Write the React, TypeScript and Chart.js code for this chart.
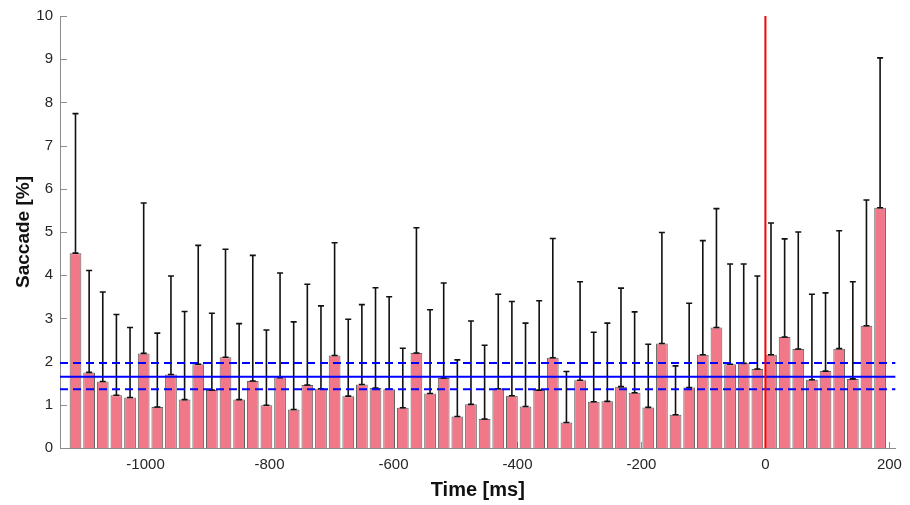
import React, { useEffect, useRef } from "react";
import { Chart, registerables } from "chart.js";

Chart.register(...registerables);

// Bin centres (ms relative to event)
const binCenters = [
  -1113, -1091, -1069, -1047, -1025, -1003, -981, -959, -937, -915,
  -893, -871, -849, -827, -805, -783, -761, -739, -717, -695,
  -673, -651, -629, -607, -585, -563, -541, -519, -497, -475,
  -453, -431, -409, -387, -365, -343, -321, -299, -277, -255,
  -233, -211, -189, -167, -145, -123, -101, -79, -57, -35,
  -13, 9, 31, 53, 75, 97, 119, 141, 163, 185,
];

// Saccade rate (%)
const saccadePct = [
  4.51, 1.75, 1.54, 1.22, 1.17, 2.19, 0.95, 1.7, 1.12, 1.94,
  1.34, 2.1, 1.12, 1.55, 0.99, 1.63, 0.89, 1.46, 1.37, 2.14,
  1.2, 1.47, 1.39, 1.36, 0.93, 2.2, 1.26, 1.62, 0.73, 1.01,
  0.67, 1.37, 1.21, 0.96, 1.34, 2.09, 0.59, 1.57, 1.07, 1.08,
  1.42, 1.28, 0.94, 2.42, 0.77, 1.4, 2.16, 2.79, 1.94, 1.96,
  1.83, 2.16, 2.57, 2.29, 1.58, 1.78, 2.3, 1.6, 2.83, 5.56,
];

// Upper end of error bars (%)
const errorTop = [
  7.74, 4.11, 3.61, 3.09, 2.79, 5.67, 2.66, 3.98, 3.16, 4.69,
  3.12, 4.6, 2.88, 4.46, 2.73, 4.05, 2.92, 3.79, 3.29, 4.75,
  2.98, 3.32, 3.71, 3.5, 2.31, 5.1, 3.2, 3.82, 2.04, 2.94,
  2.38, 3.56, 3.39, 2.89, 3.41, 4.85, 1.77, 3.85, 2.68, 2.89,
  3.7, 3.15, 2.4, 4.99, 1.9, 3.35, 4.8, 5.54, 4.26, 4.26,
  3.98, 5.21, 4.84, 5.0, 3.56, 3.59, 5.03, 3.85, 5.74, 9.03,
];

const meanLevel = 1.65;
const ciLower = 1.36;
const ciUpper = 1.97;
const eventTime = 0;

const xRange = [-1138, 210];
const yRange = [0, 10];
const xTicks = [-1000, -800, -600, -400, -200, 0, 200];
const yTicks = [0, 1, 2, 3, 4, 5, 6, 7, 8, 9, 10];

const FONT = "'Liberation Sans', Arial, Helvetica, sans-serif";

const errorBarPlugin = {
  id: "errorBars",
  afterDatasetDraw(chart: any, args: any) {
    if (args.index !== 0) return;
    const { ctx } = chart;
    const x = chart.scales.x;
    const y = chart.scales.y;
    ctx.save();
    ctx.strokeStyle = "#111111";
    ctx.lineWidth = 1.6;
    binCenters.forEach((c, i) => {
      const px = x.getPixelForValue(c);
      const y0 = y.getPixelForValue(saccadePct[i]);
      const y1 = y.getPixelForValue(errorTop[i]);
      ctx.beginPath();
      ctx.moveTo(px, y0);
      ctx.lineTo(px, y1);
      ctx.moveTo(px - 3, y1);
      ctx.lineTo(px + 3, y1);
      ctx.moveTo(px - 3, y0);
      ctx.lineTo(px + 3, y0);
      ctx.stroke();
    });
    ctx.restore();
  },
};

const tickMarkPlugin = {
  id: "tickMarks",
  beforeDatasetsDraw(chart: any) {
    const { ctx, chartArea } = chart;
    const x = chart.scales.x;
    const y = chart.scales.y;
    ctx.save();
    ctx.strokeStyle = "#8c8c8c";
    ctx.lineWidth = 1;
    ctx.beginPath();
    xTicks.forEach((t) => {
      const px = Math.round(x.getPixelForValue(t)) + 0.5;
      ctx.moveTo(px, chartArea.bottom);
      ctx.lineTo(px, chartArea.bottom - 6);
    });
    yTicks.forEach((t) => {
      const py = Math.round(y.getPixelForValue(t)) + 0.5;
      ctx.moveTo(chartArea.left, py);
      ctx.lineTo(chartArea.left + 7, py);
    });
    ctx.stroke();
    ctx.restore();
  },
};

export default function App() {
  const canvasRef = useRef<HTMLCanvasElement | null>(null);

  useEffect(() => {
    document.body.style.margin = "0";
    const canvas = canvasRef.current;
    if (!canvas) return;

    const hLine = (v: number) => [
      { x: xRange[0], y: v },
      { x: xRange[1], y: v },
    ];

    const chart = new Chart(canvas, {
      type: "bar",
      data: {
        datasets: [
          {
            type: "bar",
            label: "Saccade",
            data: binCenters.map((c, i) => ({ x: c, y: saccadePct[i] })),
            backgroundColor: "#F07889",
            borderColor: "rgba(70,70,70,0.85)",
            borderWidth: 1,
            barPercentage: 0.86,
            categoryPercentage: 1,
            order: 10,
          } as any,
          {
            type: "line",
            label: "CI upper",
            data: hLine(ciUpper),
            borderColor: "#0000FF",
            borderWidth: 2,
            borderDash: [8, 5],
            pointRadius: 0,
            fill: false,
            order: 2,
          } as any,
          {
            type: "line",
            label: "Mean",
            data: hLine(meanLevel),
            borderColor: "#0000FF",
            borderWidth: 2,
            pointRadius: 0,
            fill: false,
            order: 2,
          } as any,
          {
            type: "line",
            label: "CI lower",
            data: hLine(ciLower),
            borderColor: "#0000FF",
            borderWidth: 2,
            borderDash: [8, 5],
            pointRadius: 0,
            fill: false,
            order: 2,
          } as any,
          {
            type: "line",
            label: "Event",
            data: [
              { x: eventTime, y: yRange[0] },
              { x: eventTime, y: yRange[1] },
            ],
            borderColor: "#FF0000",
            borderWidth: 2,
            pointRadius: 0,
            fill: false,
            order: 0,
          } as any,
        ],
      },
      options: {
        animation: false,
        responsive: false,
        maintainAspectRatio: false,
        layout: { padding: { top: 14, right: 13, bottom: 0, left: 0 } },
        plugins: {
          legend: { display: false },
          tooltip: { enabled: false },
        },
        scales: {
          x: {
            type: "linear",
            min: xRange[0],
            max: xRange[1],
            offset: false,
            grid: { display: false, drawTicks: false },
            border: { display: true, color: "#8c8c8c", width: 1 },
            afterBuildTicks: (scale: any) => {
              scale.ticks = xTicks.map((v) => ({ value: v }));
            },
            afterFit: (scale: any) => {
              scale.height = 57;
            },
            ticks: {
              padding: 8,
              color: "#262626",
              font: { family: FONT, size: 15 },
              maxRotation: 0,
              autoSkip: false,
              callback: (v: any) => String(v),
            },
            title: {
              display: true,
              text: "Time [ms]",
              color: "#111111",
              font: { family: FONT, size: 20, weight: "bold" },
              padding: { top: 0, bottom: 3 },
            },
          },
          y: {
            type: "linear",
            min: yRange[0],
            max: yRange[1],
            grid: { display: false, drawTicks: false },
            border: { display: true, color: "#8c8c8c", width: 1 },
            afterBuildTicks: (scale: any) => {
              scale.ticks = yTicks.map((v) => ({ value: v }));
            },
            afterFit: (scale: any) => {
              scale.width = 60;
            },
            ticks: {
              padding: 7,
              color: "#262626",
              font: { family: FONT, size: 15 },
              callback: (v: any) => String(v),
            },
            title: {
              display: true,
              text: "Saccade [%]",
              color: "#111111",
              font: { family: FONT, size: 19, weight: "bold" },
              padding: { top: 12, bottom: 0 },
            },
          },
        },
      } as any,
      plugins: [errorBarPlugin, tickMarkPlugin],
    });

    return () => {
      chart.destroy();
    };
  }, []);

  return (
    <div style={{ width: 910, height: 505, background: "#ffffff" }}>
      <canvas ref={canvasRef} width={910} height={505} />
    </div>
  );
}
